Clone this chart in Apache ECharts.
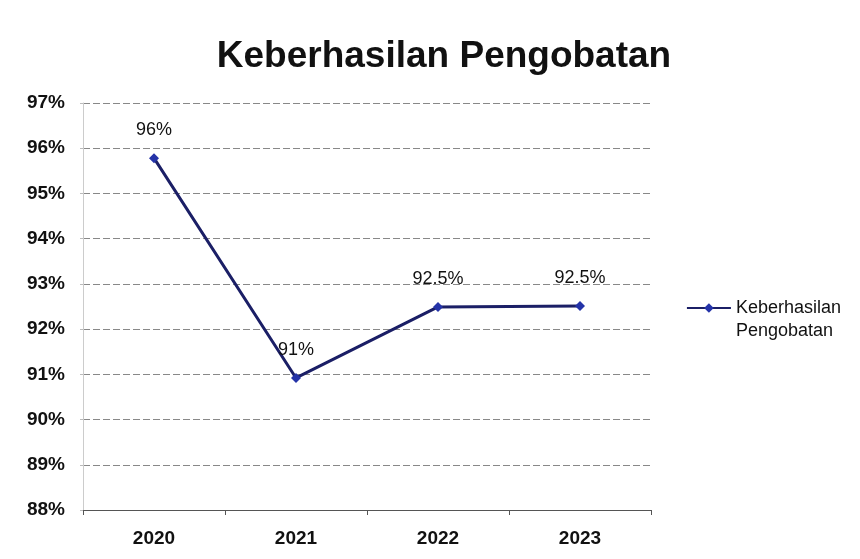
<!DOCTYPE html>
<html>
<head>
<meta charset="utf-8">
<script src="https://cdn.jsdelivr.net/npm/echarts@6/dist/echarts.min.js"></script>
<style>
  html, body { margin: 0; padding: 0; background: #fff; }
  #main { width: 860px; height: 559px; }
</style>
</head>
<body>
<div id="main"></div>
<script>
  // data
  var years = ['2020', '2021', '2022', '2023']
  var values = [95.78, 90.92, 92.49, 92.51]
  var pointLabels = ['96%', '91%', '92.5%', '92.5%']
  var seriesName = 'Keberhasilan Pengobatan'

  var chart = echarts.init(document.getElementById('main'))
  chart.setOption({
    animation: false,
    textStyle: { fontFamily: 'Liberation Sans, Arial, sans-serif' },
    title: {
      text: 'Keberhasilan Pengobatan',
      left: 439,
      textAlign: 'center',
      top: 33,
      textStyle: { fontSize: 37, fontWeight: 'bold', color: '#111' }
    },
    legend: {
      right: 14,
      top: 271,
      orient: 'vertical',
      itemWidth: 44,
      itemHeight: 12,
      itemGap: 4,
      data: [seriesName],
      // blank first line keeps the icon level with "Keberhasilan"
      formatter: function () { return '{z| }\n{a|Keberhasilan}\n{a|Pengobatan}' },
      textStyle: {
        color: '#111',
        rich: {
          z: { fontSize: 18, lineHeight: 23 },
          a: { fontSize: 18, lineHeight: 23, color: '#111' }
        }
      }
    },
    grid: { left: 83, right: 209, top: 103, bottom: 49 },
    xAxis: {
      type: 'category',
      data: years,
      boundaryGap: true,
      axisLine: { lineStyle: { color: '#555', width: 1 } },
      axisTick: { show: true, alignWithLabel: false, length: 5, lineStyle: { color: '#555' } },
      axisLabel: { fontSize: 19, fontWeight: 'bold', color: '#111', margin: 19 }
    },
    yAxis: {
      type: 'value',
      min: 88,
      max: 97,
      interval: 1,
      axisLine: { show: true, lineStyle: { color: '#ccc' } },
      axisTick: { show: true, length: 3, lineStyle: { color: '#bbb' } },
      axisLabel: {
        fontSize: 19, fontWeight: 'bold', color: '#111', margin: 18,
        formatter: function (v) { return v + '%' }
      },
      splitLine: { lineStyle: { color: '#888', type: [7, 3], width: 1 } }
    },
    series: [{
      name: seriesName,
      type: 'line',
      data: values,
      symbol: 'diamond',
      symbolSize: 10,
      lineStyle: { color: '#1b1f66', width: 3 },
      itemStyle: { color: '#2433a8' },
      label: {
        show: true,
        position: 'top',
        distance: 14,
        fontSize: 18,
        color: '#111',
        formatter: function (p) { return pointLabels[p.dataIndex] }
      }
    }]
  })
</script>
</body>
</html>
